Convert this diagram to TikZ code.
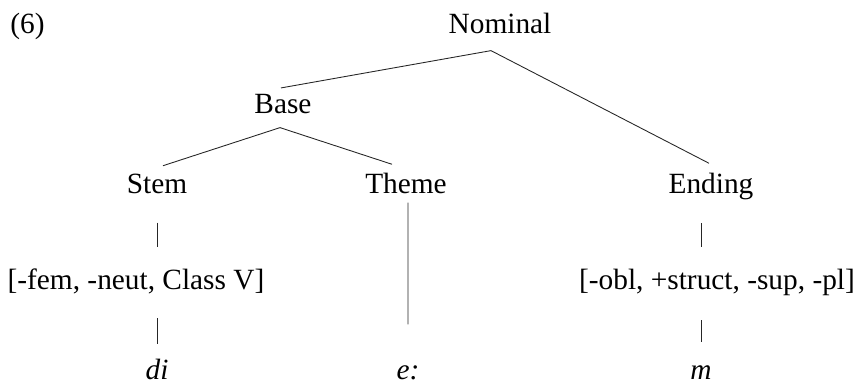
\documentclass[tikz,border=0pt]{standalone}
\usepackage{fontspec}
\setmainfont{Liberation Serif}
\usepackage{tikz}

\tikzset{
  lbl/.style={font=\fontsize{16.7}{20}\selectfont, inner sep=0pt, anchor=base},
  branch/.style={line width=0.5pt, draw=black!85}
}

\begin{document}
\begin{tikzpicture}
            \useasboundingbox (0,0) rectangle (17.14,7.74);

            \node[lbl, anchor=base west] (six) at (0.20, 7.06) {(6)};
            \node[lbl] (nominal) at (10.00, 7.06) {Nominal};
            \node[lbl] (base) at (5.66, 5.46) {Base};
            \node[lbl] (stem) at (3.14, 3.86) {Stem};
            \node[lbl] (theme) at (8.12, 3.86) {Theme};
            \node[lbl] (ending) at (14.22, 3.86) {Ending};
            \node[lbl] (fstem) at (2.72, 1.94) {[-fem, -neut, Class V]};
            \node[lbl] (fending) at (14.34, 1.94) {[-obl, +struct, -sup, -pl]};
            \node[lbl] (di) at (3.14, 0.14) {\itshape di};
            \node[lbl] (e) at (8.16, 0.14) {\itshape e:};
            \node[lbl] (m) at (14.02, 0.14) {\itshape m};

            \draw[branch] ([shift={(-0.18,-0.32)}]nominal.south) -- ([shift={(-0.04,0.13)}]base.north); % nominal-base
            \draw[branch] ([shift={(-0.18,-0.32)}]nominal.south) -- ([shift={(-0.04,0.20)}]ending.north); % nominal-ending
            \draw[branch] ([shift={(-0.06,-0.26)}]base.south) -- ([shift={(0.12,0.17)}]stem.north); % base-stem
            \draw[branch] ([shift={(-0.06,-0.26)}]base.south) -- ([shift={(-0.28,0.18)}]theme.north); % base-theme

            \draw[branch, shorten <=0.56cm, shorten >=0.43cm] (stem.south) -- (stem.south |- fstem.north); % stem-features
            \draw[branch, shorten <=0.47cm, shorten >=0.30cm] (stem.south |- fstem.south) -- (di.north); % features-di
            \draw[branch, shorten <=0.16cm, shorten >=0.83cm] ([xshift=0.04cm]theme.south) -- (e.north); % theme-e
            \draw[branch, shorten <=0.45cm, shorten >=0.45cm] (m.north |- ending.south) -- (m.north |- fending.north); % ending-features
            \draw[branch, shorten <=0.47cm, shorten >=0.47cm] (m.north |- fending.south) -- (m.north); % features-m
        \end{tikzpicture}
\end{document}
